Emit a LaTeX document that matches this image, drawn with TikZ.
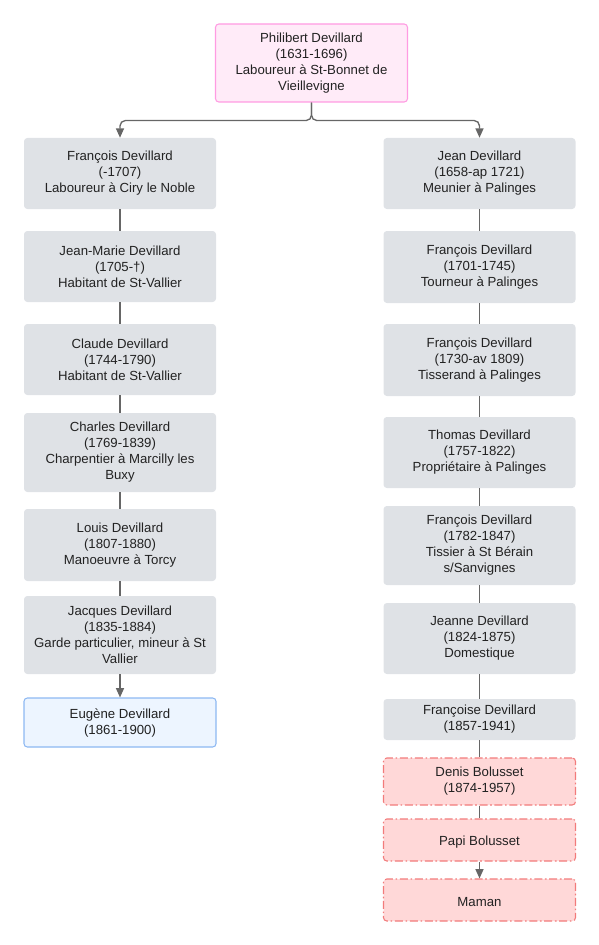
\documentclass[tikz,border=0pt]{standalone}
\usepackage{fontspec}
\setmainfont{Liberation Sans}
\usetikzlibrary{arrows.meta}

\definecolor{boxgray}{HTML}{DFE2E6}
\definecolor{rootfill}{HTML}{FFEBF8}
\definecolor{rootline}{HTML}{FF9BE2}
\definecolor{selffill}{HTML}{EDF5FF}
\definecolor{selfline}{HTML}{8DB8F2}
\definecolor{laterfill}{HTML}{FFD8D8}
\definecolor{laterline}{HTML}{F27B7B}
\definecolor{linkgray}{HTML}{666666}
\definecolor{textdark}{HTML}{222222}

\tikzset{
  person/.style={fill=boxgray, rounded corners=2.5pt, minimum width=144pt,
    inner sep=0pt, align=center, text=textdark,
    font=\fontsize{9.9}{12}\selectfont,
    execute at begin node={\rule{0pt}{10.4pt}}},
  ht/.style={minimum height=#1*0.75pt},
  ancestor/.style={person, draw=rootline, fill=rootfill, line width=0.8pt},
  self/.style={person, draw=selfline, fill=selffill, line width=0.8pt},
  later/.style={person, draw=laterline, fill=laterfill, line width=0.8pt,
    dash pattern=on 6pt off 2pt on 1.2pt off 2pt},
  link/.style={draw=linkgray, line width=1pt},
  arr/.style={link, -{Triangle[length=7pt,width=6pt]}},
}

\begin{document}
\begin{tikzpicture}[x=0.75pt,y=-0.75pt]
\useasboundingbox (0,0) rectangle (599,945);

% root
\node[ancestor, ht=78] (root) at (311.5,63) {Philibert Devillard\\(1631-1696)\\Laboureur à St-Bonnet de\\Vieillevigne};

% left line
\node[person, ht=71] (l1) at (120,173.5) {François Devillard\\(-1707)\\Laboureur à Ciry le Noble};
\node[person, ht=71] (l2) at (120,266.5) {Jean-Marie Devillard\\(1705-†)\\Habitant de St-Vallier};
\node[person, ht=71] (l3) at (120,359.5) {Claude Devillard\\(1744-1790)\\Habitant de St-Vallier};
\node[person, ht=79] (l4) at (120,452.5) {Charles Devillard\\(1769-1839)\\Charpentier à Marcilly les\\Buxy};
\node[person, ht=72] (l5) at (120,545) {Louis Devillard\\(1807-1880)\\Manoeuvre à Torcy};
\node[person, ht=78] (l6) at (120,635) {Jacques Devillard\\(1835-1884)\\Garde particulier, mineur à St\\Vallier};
\node[self, ht=49] (l7) at (120,722.5) {Eugène Devillard\\(1861-1900)};

% right line
\node[person, ht=71] (r1) at (479.5,173.5) {Jean Devillard\\(1658-ap 1721)\\Meunier à Palinges};
\node[person, ht=72] (r2) at (479.5,267) {François Devillard\\(1701-1745)\\Tourneur à Palinges};
\node[person, ht=72] (r3) at (479.5,360) {François Devillard\\(1730-av 1809)\\Tisserand à Palinges};
\node[person, ht=71] (r4) at (479.5,452.5) {Thomas Devillard\\(1757-1822)\\Propriétaire à Palinges};
\node[person, ht=79] (r5) at (479.5,545.5) {François Devillard\\(1782-1847)\\Tissier à St Bérain\\s/Sanvignes};
\node[person, ht=71] (r6) at (479.5,638.5) {Jeanne Devillard\\(1824-1875)\\Domestique};
\node[person, ht=41] (r7) at (479.5,719.5) {Françoise Devillard\\(1857-1941)};
\node[later, ht=47] (r8) at (479.5,781.5) {Denis Bolusset\\(1874-1957)};
\node[later, ht=42] (r9) at (479.5,840) {Papi Bolusset};
\node[later, ht=42] (r10) at (479.5,900) {Maman};

% connectors
\draw[arr, rounded corners=4pt] (root.south) -- ++(0,18) -| (l1.north);
\draw[arr, rounded corners=4pt] (root.south) -- ++(0,18) -| (r1.north);
\draw[link] (l1) -- (l2);
\draw[link] (l2) -- (l3);
\draw[link] (l3) -- (l4);
\draw[link] (l4) -- (l5);
\draw[link] (l5) -- (l6);
\draw[arr] (l6) -- (l7);
\draw[link] (r1) -- (r2);
\draw[link] (r2) -- (r3);
\draw[link] (r3) -- (r4);
\draw[link] (r4) -- (r5);
\draw[link] (r5) -- (r6);
\draw[link] (r6) -- (r7);
\draw[link] (r7) -- (r8);
\draw[link] (r8) -- (r9);
\draw[arr] (r9) -- (r10);
\end{tikzpicture}
\end{document}
